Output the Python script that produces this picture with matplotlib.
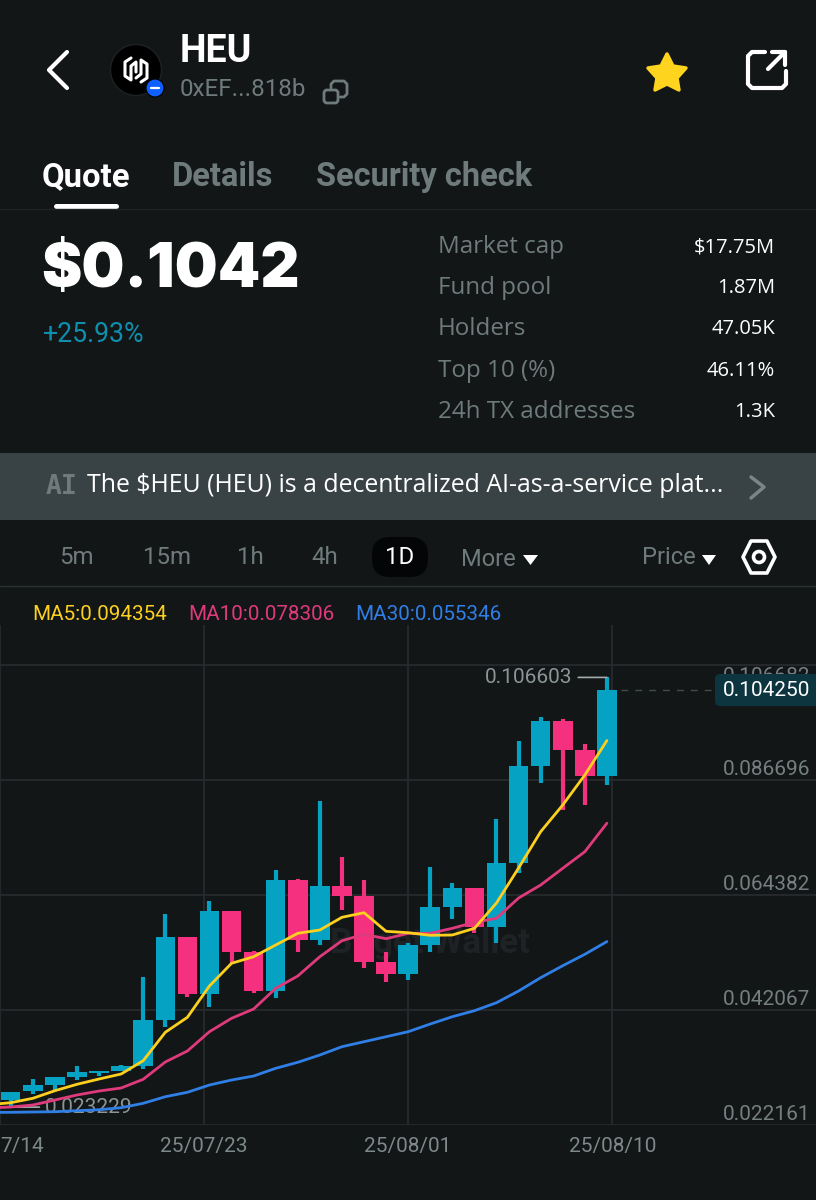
import matplotlib
matplotlib.use("Agg")
import matplotlib.pyplot as plt
from matplotlib.patches import Circle, FancyBboxPatch, Polygon, Rectangle

# ---- data ----
opens = [.02461, .026294, .027575, .029127, .029903, .030175, .031203, .040128, .056175, .045173,
         .061219, .053264, .045755, .067293, .055651, .066187, .06413, .05144, .049112, .054681,
         .062112, .065799, .058115, .070649, .089354, .098085, .092517, .08753]
closes = [.026216, .027575, .029127, .030039, .030291, .031203, .040128, .056175, .045173, .061219,
          .053264, .045755, .067293, .055651, .066187, .06413, .05144, .049112, .054681, .062112,
          .065799, .058115, .070649, .089354, .098085, .092517, .08753, .10425]
highs = [.026216, .028622, .029127, .031203, .030291, .031397, .04853, .060637, .056175, .063276,
         .061219, .053575, .069233, .067487, .082621, .071814, .067293, .053381, .055069, .069757,
         .066652, .065799, .079129, .094321, .098979, .098531, .093622, .106603]
lows = [.023229, .02577, .026546, .028487, .029263, .030175, .030563, .038828, .044533, .042593,
        .051246, .045309, .044397, .053381, .054681, .061472, .050276, .047502, .04789, .053322,
        .059667, .056951, .055011, .068593, .086114, .080875, .081845, .085725]
# moving averages start one session before the first visible candle
ma5 = [.023694, .024082, .024936, .02641, .027652, .028681, .029651, .032231, .037742, .040652, .046725,
       .05113, .05241, .054681, .056951, .057591, .060055, .060948, .057339, .057067, .056563,
       .056621, .057921, .06283, .069621, .076664, .081845, .087666, .094354]
ma10 = [.023054, .023248, .023636, .024606, .025576, .026352, .026934, .028622, .031979, .034113, .037858,
        .040458, .042263, .046279, .048666, .05241, .055515, .056757, .055903, .056951, .056951,
        .057921, .059085, .059861, .0638, .066322, .069563, .072784, .078306]
ma30 = [.0222, .022219, .022278, .022336, .02253, .022724, .023112, .023966, .025246, .0261, .027516,
        .028487, .029263, .030757, .031921, .033337, .034948, .035918, .036888, .037858, .039352,
        .040769, .041933, .043485, .045755, .048336, .050664, .052876, .055346]
grid_prices = [0.109010, 0.086696, 0.064382, 0.042067, 0.019752]
price_labels = ["0.106682", "0.086696", "0.064382", "0.042067", "0.022161"]
date_positions = [-0.485, 8.755, 18.0, 27.24]
date_labels = ["7/14", "25/07/23", "25/08/01", "25/08/10"]
stat_names = ["Market cap", "Fund pool", "Holders", "Top 10 (%)", "24h TX addresses"]
stat_values = ["$17.75M", "1.87M", "47.05K", "46.11%", "1.3K"]
periods = ["5m", "15m", "1h", "4h", "1D"]
high_price = 0.106603
low_price = 0.023229
last_price = 0.104250

BG = "#121617"
GREY = "#6f7b7b"
GRID = "#282c2e"
TEAL = "#06a2c3"
PINK = "#f5307f"
UI = ["Roboto", "DejaVu Sans"]
GEO = ["Open Sans", "DejaVu Sans"]

fig = plt.figure(figsize=(8.16, 12), dpi=100, facecolor=BG)
H = 1200.0
top_px, bot_px = 625.0, 1125.3
ax = fig.add_axes([0, 1 - bot_px / H, 1, (bot_px - top_px) / H], facecolor=BG)
ax.set_xlim(-0.4846, 36.47)
ax.set_ylim(0.0197, 0.116771)
for s in ax.spines.values():
    s.set_visible(False)

ax.set_yticks(grid_prices)
ax.set_yticklabels([])
ax.set_xticks(date_positions)
ax.set_xticklabels(date_labels, color="#7d8888", fontsize=15, family=UI)
ax.tick_params(length=0, pad=8.5)
ax.get_xticklabels()[0].set_ha("left")
ax.grid(True, color=GRID, lw=1.2, zorder=0)
ax.set_axisbelow(True)

for i, (p, l) in enumerate(zip(grid_prices, price_labels)):
    ax.annotate(l, xy=(1, p), xycoords=("axes fraction", "data"), xytext=(-4.2, -8.6 if i == 0 else 7.6),
                textcoords="offset points", ha="right", va="center",
                color="#757f7f", fontsize=15, family=UI)

ax.text(19.0, 0.05507, "Bitget Wallet", color="#1e2224", fontsize=25, fontweight="bold",
        family=UI, ha="center", va="center", zorder=1)

idx = list(range(len(opens)))
cols = [TEAL if c >= o else PINK for o, c in zip(opens, closes)]
ax.vlines(idx, lows, highs, colors=cols, lw=3.0, zorder=2)
ax.bar(idx, [abs(c - o) for o, c in zip(opens, closes)], bottom=[min(o, c) for o, c in zip(opens, closes)],
       width=0.885, color=cols, zorder=3, linewidth=0)

ma_x = list(range(-1, len(opens)))
ax.plot(ma_x, ma30, color="#2f7fe6", lw=2.0, zorder=4, solid_capstyle="round")
ax.plot(ma_x, ma10, color="#df3a7c", lw=2.0, zorder=4, solid_capstyle="round")
ax.plot(ma_x, ma5, color="#fdd01f", lw=2.0, zorder=5, solid_capstyle="round")

ax.hlines(last_price, 27.0, 32.0, colors="#444a4c", lw=1, linestyles=(0, (5, 5)), zorder=2)
ax.annotate(f"{high_price:.6f}", xy=(27.0, high_price), xytext=(25.45, high_price),
            ha="right", va="center", color="#8b9595", fontsize=15, family=UI,
            arrowprops=dict(arrowstyle="-", color="#a4acac", lw=1.2, shrinkA=2, shrinkB=0))
ax.annotate(f"{low_price:.6f}", xy=(0.0, low_price), xytext=(1.55, low_price),
            ha="left", va="center", color="#8b9595", fontsize=15, family=UI,
            arrowprops=dict(arrowstyle="-", color="#a4acac", lw=1.2, shrinkA=2, shrinkB=0))

# ---- screen furniture in pixel coordinates ----
ui = fig.add_axes([0, 0, 1, 1], facecolor="none", zorder=10)
ui.set_xlim(0, 816)
ui.set_ylim(1200, 0)
ui.axis("off")


def T(x, y, s, size, color="white", weight="normal", ha="left", fam=UI, **kw):
    ui.text(x, y + 2, s, fontsize=size, color=color, fontweight=weight, ha=ha, va="center", family=fam, **kw)


def L(xs, ys, color="white", lw=2.5, **kw):
    ui.plot(xs, ys, color=color, lw=lw, solid_capstyle="round", solid_joinstyle="round", **kw)


def RR(x, y, w, h, r, **kw):
    ui.add_patch(FancyBboxPatch((x + r, y + r), w - 2 * r, h - 2 * r,
                                boxstyle=f"round,pad={r},rounding_size={r}", **kw))


# header
L([67, 49, 67], [52, 70, 88], lw=3)
ui.add_patch(Circle((136, 70), 25.5, fc="#000000", ec="#1e2224", lw=1))
L([131, 125, 125, 131, 131, 136, 136], [58, 62, 76, 80, 66, 62, 72], lw=2.2)
L([141, 147, 147, 141, 141, 136], [82, 78, 64, 60, 74, 78], lw=2.2)
ui.add_patch(Circle((155, 88), 9, fc="#0f5fff", ec="#000000", lw=0.8))
L([151, 159], [88, 88], lw=1.6)
T(180, 50, "HEU", 27, weight="bold")
T(180, 88, "0xEF...818b", 17.4, color=GREY)
RR(324, 90, 14, 13, 3, fc="none", ec=GREY, lw=2)
L([331, 331, 334, 344, 347, 347, 344, 340], [88, 84, 81, 81, 84, 94, 97, 97], color=GREY, lw=2)
ui.add_patch(Polygon([(667, 54), (673, 66), (686, 68), (677, 78), (679, 90), (667, 84),
                      (655, 90), (657, 78), (648, 68), (661, 66)],
                     closed=True, fc="#ffd41f", ec="#ffd41f", lw=2.5, joinstyle="round"))
L([765, 752, 748, 748, 752, 782, 786, 786], [52, 52, 56, 84, 88, 88, 84, 71], lw=3)
L([768, 785], [69, 52], lw=3)
L([772, 785, 785], [52, 52, 65], lw=3)

# tabs
T(42, 175, "Quote", 23.7, weight="semibold")
T(172, 175, "Details", 23.5, color=GREY, weight="semibold")
T(316, 175, "Security check", 23.5, color=GREY, weight="semibold")
L([56, 116], [205.5, 205.5], lw=3.6)
L([0, 816], [209, 209], color="#1e2324", lw=1)

# quote
T(41, 269, "$0.1042", 43.6, weight="black", fam=["Inter", "Roboto"])
T(43, 333, "+25.93%", 19.2, color="#0e8fae")
for i, (n, v) in enumerate(zip(stat_names, stat_values)):
    y = 245 + i * 41.2
    T(438, y, n, 17.4, color=GREY, fam=GEO)
    T(775, y, v, 14.5, ha="right", fam=GEO)

# banner
ui.add_patch(Rectangle((0, 453), 816, 67, fc="#394345", ec="none"))
T(46, 485, "AI", 19, color="#6f7b7b", weight="bold", fam=["DejaVu Sans Mono"])
T(87, 483, "The $HEU (HEU) is a decentralized AI-as-a-service plat...", 17.95, fam=GEO)
L([751, 764, 751], [477, 487, 498], color="#7a8585", lw=2.5)

# time row
RR(372, 537, 56, 40, 18, fc="#030506", ec="none")
for x, s in zip([76, 167, 250, 325, 400], periods):
    T(x, 556, s, 17.3, color="white" if s == "1D" else GREY, ha="center")
T(461, 557, "More", 17, color=GREY)
ui.add_patch(Polygon([(523, 555), (538, 555), (530.5, 565)], fc="white", ec="none"))
T(642, 556, "Price", 17, color=GREY)
ui.add_patch(Polygon([(702, 555), (716, 555), (709, 565)], fc="white", ec="none"))
ui.add_patch(Polygon([(751, 541), (767, 541), (775, 557), (767, 573), (751, 573), (743, 557)],
                     closed=True, fc="none", ec="white", lw=2.6, joinstyle="round"))
ui.add_patch(Circle((759, 557), 5.5, fc="none", ec="white", lw=2.6))
L([0, 816], [586, 586], color="#2b3032", lw=1)

# moving-average legend
T(32, 613, f"MA5:{ma5[-1]:.6f}", 14.9, color="#fdd01f")
T(188, 613, f"MA10:{ma10[-1]:.6f}", 14.9, color="#df3a7c")
T(355, 613, f"MA30:{ma30[-1]:.6f}", 14.9, color="#2f7fe6")

# last price tag
RR(715, 674, 110, 32, 5, fc="#0c3540", ec="none")
T(810, 688, f"{last_price:.6f}", 15, ha="right")

fig.savefig("out.png", dpi=100, facecolor=BG)
